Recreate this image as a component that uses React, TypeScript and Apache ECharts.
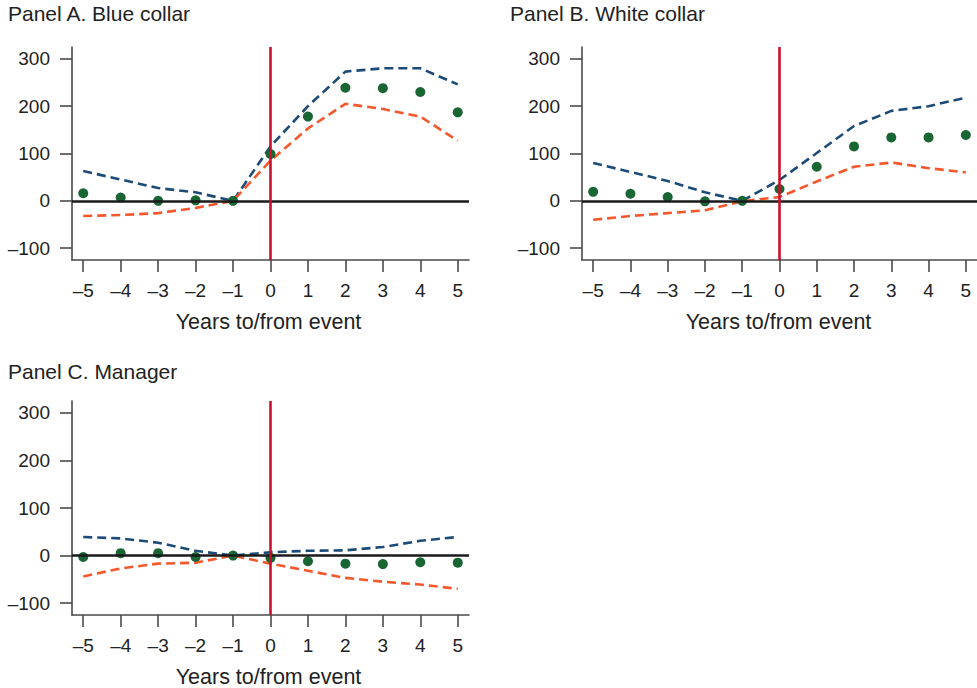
import React, { useEffect, useRef } from "react";
import * as echarts from "echarts";

const years = [-5, -4, -3, -2, -1, 0, 1, 2, 3, 4, 5];
const yTicks = [-100, 0, 100, 200, 300];

const panelTitles = ["Panel A. Blue collar", "Panel B. White collar", "Panel C. Manager"];
const xAxisTitle = "Years to/from event";

const blueA = [63, 45, 27, 18, 0, 115, 200, 273, 280, 280, 246];
const orangeA = [-32, -30, -26, -15, 0, 85, 153, 205, 194, 178, 127];
const dotsA = [16, 7, 0, 1, 0, 99, 178, 239, 238, 230, 187];

const blueB = [80, 61, 42, 18, 0, 44, 101, 158, 190, 200, 218];
const orangeB = [-40, -32, -26, -20, -1, 8, 41, 72, 81, 69, 60];
const dotsB = [19, 15, 8, -1, 0, 25, 72, 115, 134, 134, 139];

const blueC = [39, 36, 27, 10, 0, 7, 10, 11, 18, 31, 39];
const orangeC = [-44, -27, -17, -15, 0, -17, -32, -47, -55, -61, -70];
const dotsC = [-3, 5, 5, -3, 0, -5, -12, -17, -18, -14, -15];

const panels = [
  { blue: blueA, orange: orangeA, dots: dotsA },
  { blue: blueB, orange: orangeB, dots: dotsB },
  { blue: blueC, orange: orangeC, dots: dotsC },
];

const FONT = "'Liberation Sans', Arial, Helvetica, sans-serif";
const TEXT = "#222";
const AXIS = "#4a4a4a";
const BLUE = "#1d4b78";
const ORANGE = "#f4572b";
const GREEN = "#196634";
const RED = "#c8102e";

const grids = [
  { left: 72, top: 47, width: 397, height: 213 },
  { left: 582, top: 47, width: 397, height: 213 },
  { left: 72, top: 401, width: 397, height: 214 },
];

const fmt = (v: number) => (v < 0 ? "\u2013" + Math.abs(v) : String(v));

export default function App() {
  const ref = useRef<HTMLDivElement>(null);
  useEffect(() => {
    if (!ref.current) return;
    const chart = echarts.init(ref.current, undefined, { renderer: "svg" });
    const xAxes: any[] = [];
    const yAxes: any[] = [];
    const series: any[] = [];
    const graphics: any[] = [];
    grids.forEach((g, i) => {
      xAxes.push({
        type: "value",
        gridIndex: i,
        min: -5.3,
        max: 5.3,
        splitLine: { show: false },
        axisLine: { show: true, onZero: false, lineStyle: { color: AXIS, width: 1.6 } },
        axisTick: { show: true, length: 12, customValues: years, lineStyle: { color: AXIS, width: 1.6 } },
        axisLabel: {
          customValues: years,
          margin: 21,
          fontSize: 19,
          fontFamily: FONT,
          color: TEXT,
          formatter: (v: number) => fmt(v),
        },
      });
      yAxes.push({
        type: "value",
        gridIndex: i,
        min: -125,
        max: 325,
        splitLine: { show: false },
        axisLine: { show: true, onZero: false, lineStyle: { color: AXIS, width: 1.6 } },
        axisTick: { show: true, length: 12, customValues: yTicks, lineStyle: { color: AXIS, width: 1.6 } },
        axisLabel: {
          customValues: yTicks,
          margin: 22,
          fontSize: 19,
          fontFamily: FONT,
          color: TEXT,
          formatter: (v: number) => fmt(v),
        },
      });
      const p = panels[i];
      series.push({
        type: "scatter",
        xAxisIndex: i,
        yAxisIndex: i,
        data: [],
        z: 1,
        markLine: {
          silent: true,
          symbol: "none",
          label: { show: false },
          animation: false,
          data: [
            { yAxis: 0, lineStyle: { color: "#1a1a1a", width: 2.6, type: "solid" } },
            { xAxis: 0, lineStyle: { color: RED, width: 2.6, type: "solid" } },
          ],
        },
      });
      series.push({
        type: "line",
        xAxisIndex: i,
        yAxisIndex: i,
        data: years.map((x, k) => [x, p.blue[k]]),
        showSymbol: false,
        symbol: "none",
        z: 3,
        lineStyle: { color: BLUE, width: 2.6, type: [9, 5] },
      });
      series.push({
        type: "line",
        xAxisIndex: i,
        yAxisIndex: i,
        data: years.map((x, k) => [x, p.orange[k]]),
        showSymbol: false,
        symbol: "none",
        z: 3,
        lineStyle: { color: ORANGE, width: 2.6, type: [9, 5] },
      });
      series.push({
        type: "scatter",
        xAxisIndex: i,
        yAxisIndex: i,
        data: years.map((x, k) => [x, p.dots[k]]),
        symbol: "circle",
        symbolSize: 10,
        z: 4,
        itemStyle: { color: GREEN, opacity: 1 },
      });
      graphics.push({
        type: "text",
        left: i === 1 ? 510 : 8,
        top: i === 2 ? 361 : 3,
        style: { text: panelTitles[i], fontSize: 21, fontFamily: FONT, fill: TEXT },
      });
      graphics.push({
        type: "text",
        x: g.left + g.width / 2 - 2,
        y: g.top + g.height + 62,
        style: {
          text: xAxisTitle,
          fontSize: 21.5,
          fontFamily: FONT,
          fill: TEXT,
          align: "center",
          verticalAlign: "middle",
        },
      });
    });
    chart.setOption({
      animation: false,
      backgroundColor: "#fff",
      grid: grids.map((g) => ({ ...g, containLabel: false })),
      xAxis: xAxes,
      yAxis: yAxes,
      series,
      graphic: graphics,
    });
    return () => chart.dispose();
  }, []);
  return (
    <div
      ref={ref}
      style={{ position: "fixed", left: 0, top: 0, width: 977, height: 688, background: "#fff" }}
    />
  );
}
